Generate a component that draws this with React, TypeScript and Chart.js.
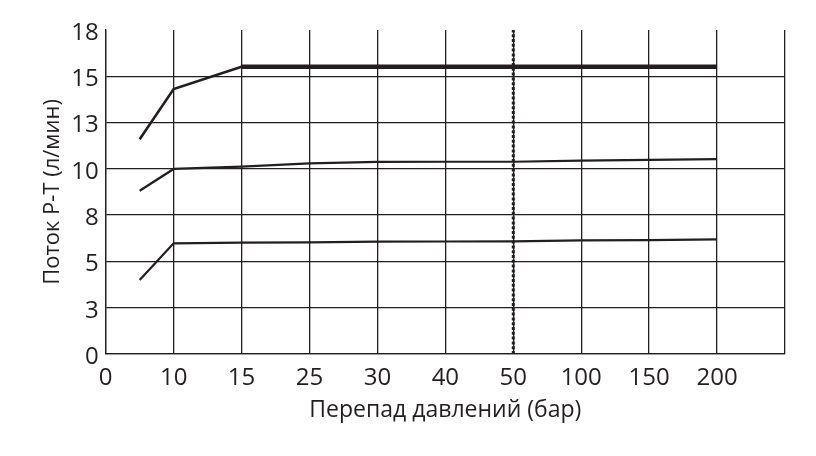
import { useEffect, useRef } from "react"
import { Chart, registerables } from "chart.js"

Chart.register(...registerables)

// x categories (the last one is an empty column on the right)
const xLabels = ["0", "10", "15", "25", "30", "40", "50", "100", "150", "200", ""]
// point positions, in category units (first point sits halfway between 0 and 10)
const xPos = [0.5, 1, 2, 3, 4, 5, 6, 7, 8, 9]

const topFlow = [11.93, 14.72, 15.96, 15.96, 15.96, 15.96, 15.96, 15.96, 15.96, 15.96]
const midFlow = [9.07, 10.28, 10.41, 10.59, 10.67, 10.68, 10.68, 10.74, 10.78, 10.83]
const lowFlow = [4.11, 6.15, 6.19, 6.2, 6.24, 6.25, 6.26, 6.31, 6.33, 6.37]

// dotted marker at "50"
const markerX = 6

const yMax = 18
const yTickLabels = ["0", "3", "5", "8", "10", "13", "15", "18"]

const ink = "#231f20"
const font = "'Open Sans', 'Noto Sans', sans-serif"

const pts = (ys: number[]) => ys.map((y, i) => ({ x: xPos[i], y }))

export default function App() {
  const canvasRef = useRef<HTMLCanvasElement>(null)

  useEffect(() => {
    document.body.style.margin = "0"
    if (!canvasRef.current) return

    const chart = new Chart(canvasRef.current, {
      type: "line",
      data: {
        datasets: [
          {
            data: pts(topFlow),
            borderColor: ink,
            borderWidth: 2.6,
            pointRadius: 0,
            segment: { borderWidth: (ctx: any) => (ctx.p0DataIndex >= 2 ? 4.5 : 2.6) },
          },
          { data: pts(midFlow), borderColor: ink, borderWidth: 2.2, pointRadius: 0 },
          { data: pts(lowFlow), borderColor: ink, borderWidth: 2.2, pointRadius: 0 },
          {
            data: [{ x: markerX, y: 0 }, { x: markerX, y: yMax }],
            borderColor: ink,
            borderWidth: 3,
            borderDash: [3, 1.8],
            pointRadius: 0,
          },
        ],
      },
      options: {
        animation: false,
        responsive: false,
        layout: { padding: { left: 0, top: 30, right: 31, bottom: 0 } },
        plugins: { legend: { display: false }, tooltip: { enabled: false } },
        scales: {
          x: {
            type: "linear",
            min: 0,
            max: xLabels.length - 1,
            afterBuildTicks: (scale: any) => {
              scale.ticks = xLabels.map((_, i) => ({ value: i }))
            },
            afterFit: (scale: any) => {
              scale.height = 102
            },
            grid: { color: ink, lineWidth: 1.3, drawTicks: false },
            border: { color: ink, width: 1.3 },
            ticks: {
              color: ink,
              padding: 10,
              maxRotation: 0,
              font: { family: font, size: 24 },
              callback: (_v: any, i: number) => xLabels[i],
            },
            title: {
              display: true,
              text: "Перепад давлений (бар)",
              color: ink,
              font: { family: font, size: 23 },
              padding: { top: 0, bottom: 32 },
            },
          },
          y: {
            min: 0,
            max: yMax,
            afterBuildTicks: (scale: any) => {
              scale.ticks = yTickLabels.map((_, i) => ({ value: (i * yMax) / (yTickLabels.length - 1) }))
            },
            afterFit: (scale: any) => {
              scale.width = 105.7
            },
            grid: {
              color: (ctx: any) => (ctx.tick && ctx.tick.value >= yMax - 0.01 ? "rgba(0,0,0,0)" : ink),
              lineWidth: 1.3,
              drawTicks: false,
            },
            border: { color: ink, width: 1.3 },
            ticks: {
              color: ink,
              padding: 7,
              labelOffset: 3,
              font: { family: font, size: 24 },
              callback: (_v: any, i: number) => yTickLabels[i],
            },
            title: {
              display: true,
              text: "Поток P-T (л/мин)",
              color: ink,
              font: { family: font, size: 22 },
              padding: { top: 40, bottom: 0 },
            },
          },
        },
      },
    })

    return () => chart.destroy()
  }, [])

  return (
    <div style={{ width: 816, height: 456, background: "#fff" }}>
      <canvas ref={canvasRef} width={816} height={456} />
    </div>
  )
}
